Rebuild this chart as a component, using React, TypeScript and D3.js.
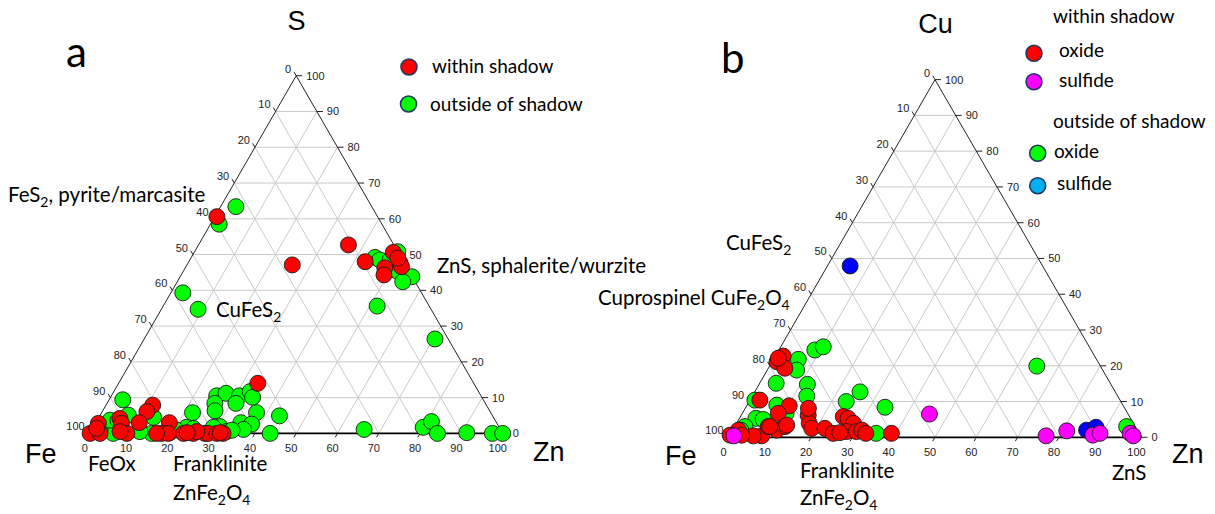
import React from 'react';
import * as d3 from 'd3';

// Compositions are [Fe, top component, Zn] in percent (top = S for panel a, Cu for panel b)
type Comp = [number, number, number];

const tickValues: number[] = d3.range(0, 101, 10);

// Panel a — S / Fe / Zn
const aWithinShadow: Comp[] = [
  [11.0, 52.7, 36.3], [27.4, 47.1, 25.5], [9.3, 48.0, 42.7], [1.2, 50.6, 48.2],
  [1.0, 47.7, 51.3], [5.4, 46.3, 48.3], [6.6, 44.3, 49.1], [1.2, 46.6, 52.2],
  [0.9, 49.0, 50.1], [38.9, 60.6, 0.5],
  [52.3, 14.0, 33.7], [80.8, 7.9, 11.3], [83.1, 6.1, 10.8], [86.5, 3.0, 10.5],
  [90.6, 4.2, 5.2], [90.9, 2.8, 6.3], [79.2, 3.0, 17.8], [96.5, 2.8, 0.7],
  [98.5, 0.5, 1.0], [99.9, 0, 0.1], [91.0, 0, 9.0], [82.6, 0, 17.4],
  [81.0, 0, 19.0], [77.3, 0, 22.7], [74.9, 0, 25.1], [72.1, 0, 27.9],
  [71.3, 0, 28.7], [69.2, 0, 30.8], [67.7, 0, 32.3], [92.4, 0.5, 7.1],
  [97.5, 0, 2.5], [73.8, 0.5, 25.7], [97.6, 1.4, 1.0], [83.8, 0, 16.2],
  [76.3, 0.2, 23.5], [68.3, 0.2, 31.5],
];

const aOutsideShadow: Comp[] = [
  [6.3, 49.2, 44.5], [5.5, 48.5, 46.0], [0, 50.8, 49.2], [4.4, 45.7, 49.9],
  [2.7, 45.2, 52.1], [0.1, 43.8, 56.1], [3.0, 42.4, 54.6], [12.6, 35.6, 51.8],
  [3.0, 48.5, 48.5], [32.9, 63.4, 3.7], [39.4, 58.5, 2.1], [57.8, 39.3, 2.9],
  [56.4, 34.7, 8.9], [3.2, 26.4, 70.4],
  [51.6, 4.9, 43.5], [33.0, 1.1, 65.9], [18.4, 1.7, 79.9], [15.6, 3.3, 81.1],
  [15.8, 0, 84.2], [8.6, 0.2, 91.2], [2.5, 0, 97.5], [0, 0, 100],
  [87.3, 9.4, 3.3], [64.0, 10.5, 25.5], [61.4, 11.2, 27.4], [58.5, 10.5, 31.0],
  [55.3, 11.7, 33.0], [55.5, 10.1, 34.4], [60.4, 8.4, 31.2], [65.5, 8.4, 26.1],
  [66.5, 6.3, 27.2], [72.2, 5.8, 22.0], [56.7, 5.8, 37.5], [61.9, 3.0, 35.1],
  [59.5, 2.6, 37.9], [62.2, 1.1, 36.7], [56.3, 0, 43.7], [82.3, 4.5, 13.2],
  [85.0, 0, 15.0], [94.1, 1.9, 4.0], [88.1, 5.1, 6.8], [67.5, 1.9, 30.6],
  [75.7, 1.7, 22.6], [94.3, 0, 5.7], [97.0, 1.0, 2.0], [87.6, 0.5, 11.9],
  [66.6, 0.5, 32.9], [69.2, 1.7, 29.1], [74.2, 1.4, 24.4], [80.5, 0.2, 19.3],
  [93.2, 3.7, 3.1], [91.3, 3.7, 5.0], [65.1, 0.9, 34.0], [78.6, 1.0, 20.4],
];

// Panel b — Cu / Fe / Zn
const bShadowOxide: Comp[] = [
  [75.4, 22.7, 1.9], [77.7, 21.1, 1.2], [76.7, 19.3, 4.0], [76.9, 22.1, 1.0],
  [87.2, 10.4, 2.4], [80.9, 8.8, 10.3], [84.6, 6.7, 8.7], [77.6, 6.2, 16.2],
  [78.5, 3.9, 17.6], [78.6, 2.5, 18.9], [75.4, 2.5, 22.1], [74.1, 1.1, 24.8],
  [69.3, 5.8, 24.9], [68.4, 5.3, 26.3], [67.8, 3.9, 28.3], [70.6, 1.6, 27.8],
  [68.2, 1.6, 30.2], [66.7, 2.0, 31.3], [66.2, 1.1, 32.7], [60.0, 1.1, 38.9],
  [87.3, 2.0, 10.7], [91.8, 0.4, 7.8], [93.8, 0.4, 5.8], [88.9, 3.0, 8.1],
  [84.8, 3.0, 12.2], [96.6, 2.0, 1.4], [99.3, 0.6, 0.1], [96.5, 0.6, 2.9],
  [76.6, 8.1, 15.3], [72.4, 1.3, 26.3], [84.2, 3.4, 12.4], [88.5, 3.0, 8.5],
];

const bShadowSulfide: Comp[] = [
  [48.1, 6.5, 45.4], [22.9, 0.4, 76.7], [17.2, 1.8, 81.0], [11.5, 0.6, 87.9],
  [9.5, 1.1, 89.4], [2.2, 1.1, 96.7], [1.8, 0.4, 97.8], [98.5, 0.4, 1.1],
];

const bOutsideOxide: Comp[] = [
  [15.4, 19.9, 64.7], [2.1, 3.0, 94.9], [57.9, 8.4, 33.7], [66.9, 24.4, 8.7],
  [64.4, 25.3, 10.3], [72.2, 21.8, 6.0], [74.1, 18.8, 7.1], [80.9, 15.1, 4.0],
  [73.5, 14.8, 11.7], [75.3, 11.5, 13.2], [61.8, 12.7, 25.5], [66.5, 10.0, 23.5],
  [88.4, 10.4, 1.2], [83.8, 9.0, 7.2], [90.7, 5.3, 4.0], [89.1, 5.0, 5.9],
  [82.7, 6.7, 10.6], [94.5, 3.0, 2.5], [63.7, 1.1, 35.2], [96.0, 2.0, 2.0],
];

const bOutsideSulfide: Comp[] = [
  [46.6, 47.9, 5.5], [12.3, 2.0, 85.7], [9.6, 2.8, 87.6],
];

const RED = '#ff0000';
const GREEN = '#00ff00';
const MAGENTA = '#ff00ff';
const BLUE = '#0000ff';
const SKY = '#00b0f0';

const ARIAL = '"Liberation Sans", Arial, sans-serif';
const LABEL = 'Lato, "Open Sans", sans-serif';
const NOTE_SIZE = 20.5;
const LEGEND_SIZE = 19;

type Series = { data: Comp[]; color: string };

function Ternary({
  left, base, side, series, top, leftName, rightName, topPos, leftPos, rightPos,
}: {
  left: number; base: number; side: number; series: Series[];
  top: string; leftName: string; rightName: string;
  topPos: [number, number]; leftPos: [number, number]; rightPos: [number, number];
}) {
  const h = (side * Math.sqrt(3)) / 2;
  const sx = d3.scaleLinear().domain([0, 100]).range([left, left + side]);
  const sy = d3.scaleLinear().domain([0, 100]).range([base, base - h]);
  const pos = (t: number, zn: number): [number, number] => [sx(zn + t / 2), sy(t)];

  const inner = tickValues.filter((k) => k > 0 && k < 100);
  const grid: [number, number, number, number][] = [];
  inner.forEach((k) => {
    const a1 = pos(k, 0), a2 = pos(k, 100 - k);
    grid.push([a1[0], a1[1], a2[0], a2[1]]);
    const b1 = pos(0, k), b2 = pos(100 - k, k);
    grid.push([b1[0], b1[1], b2[0], b2[1]]);
    const c1 = pos(0, 100 - k), c2 = pos(100 - k, 0);
    grid.push([c1[0], c1[1], c2[0], c2[1]]);
  });

  const apex = pos(100, 0), lv = pos(0, 0), rv = pos(0, 100);
  const c60 = 0.5, s60 = Math.sqrt(3) / 2, tl = 4.5;

  return (
    <g>
      {grid.map((g, i) => (
        <line key={i} x1={g[0]} y1={g[1]} x2={g[2]} y2={g[3]} stroke="#c9c9c9" strokeWidth={1} />
      ))}
      <line x1={lv[0]} y1={lv[1]} x2={apex[0]} y2={apex[1]} stroke="#222" strokeWidth={1} />
      <line x1={apex[0]} y1={apex[1]} x2={rv[0]} y2={rv[1]} stroke="#222" strokeWidth={1} />
      <line x1={lv[0]} y1={lv[1]} x2={rv[0]} y2={rv[1]} stroke="#000" strokeWidth={1.8} />

      {tickValues.map((k) => {
        // left axis: Fe, 0 at apex, 100 at Fe corner
        const p = pos(100 - k, 0);
        return (
          <g key={'l' + k}>
            <line x1={p[0]} y1={p[1]} x2={p[0] - tl * c60} y2={p[1] - tl * s60} stroke="#222" />
            <text x={p[0] - 5} y={p[1] - 3} textAnchor="end" fontSize={11} fontFamily={ARIAL} fill="#222">{k}</text>
          </g>
        );
      })}
      {tickValues.map((k) => {
        // right axis: top component
        const p = pos(k, 100 - k);
        return (
          <g key={'r' + k}>
            <line x1={p[0]} y1={p[1]} x2={p[0] + 6} y2={p[1]} stroke="#222" />
            <text x={p[0] + 10} y={p[1] + 4} fontSize={11} fontFamily={ARIAL} fill="#222">{k}</text>
          </g>
        );
      })}
      {tickValues.map((k) => {
        // bottom axis: Zn
        const p = pos(0, k);
        return (
          <g key={'b' + k}>
            <line x1={p[0]} y1={p[1]} x2={p[0] - tl * c60} y2={p[1] + tl * s60} stroke="#222" />
            <text x={p[0] - 5} y={p[1] + 19} textAnchor="middle" fontSize={11} fontFamily={ARIAL} fill="#222">{k}</text>
          </g>
        );
      })}

      {series.map((s, si) => (
        <g key={'s' + si}>
          {s.data.map((d, i) => {
            const p = pos(d[1], d[2]);
            return <circle key={i} cx={p[0]} cy={p[1]} r={8} fill={s.color} stroke="#1a1a1a" strokeWidth={0.9} />;
          })}
        </g>
      ))}

      <text x={topPos[0]} y={topPos[1]} textAnchor="middle" fontSize={27} fontFamily={ARIAL} fill="#000">{top}</text>
      <text x={leftPos[0]} y={leftPos[1]} fontSize={27} fontFamily={ARIAL} fill="#000">{leftName}</text>
      <text x={rightPos[0]} y={rightPos[1]} fontSize={27} fontFamily={ARIAL} fill="#000">{rightName}</text>
    </g>
  );
}

// Text with subscripted digits, e.g. FeS₂
function Formula({ x, y, parts, size = NOTE_SIZE }: { x: number; y: number; parts: (string | [string])[]; size?: number }) {
  const out: React.ReactNode[] = [];
  let shifted = false;
  const drop = size * 0.24;
  parts.forEach((p, i) => {
    if (Array.isArray(p)) {
      out.push(<tspan key={i} dy={drop} fontSize={size * 0.68}>{p[0]}</tspan>);
      shifted = true;
    } else {
      out.push(<tspan key={i} dy={shifted ? -drop : 0}>{p}</tspan>);
      shifted = false;
    }
  });
  return (
    <text x={x} y={y} fontSize={size} fontFamily={LABEL} fill="#000">{out}</text>
  );
}

function LegendDot({ x, y, color }: { x: number; y: number; color: string }) {
  return <circle cx={x} cy={y} r={8} fill={color} stroke="#203864" strokeWidth={1.6} />;
}

export default function App() {
  return (
    <svg width={1215} height={514} style={{ position: 'absolute', left: 0, top: 0, background: '#fff' }}>
      <rect width={1215} height={514} fill="#fff" />

      {/* Panel a */}
      <text x={66} y={67} fontSize={42} fontFamily={LABEL} fill="#000">a</text>
      <Ternary
        left={89.7} base={433.4} side={413}
        series={[{ data: aOutsideShadow, color: GREEN }, { data: aWithinShadow, color: RED }]}
        top="S" leftName="Fe" rightName="Zn"
        topPos={[296.5, 30]} leftPos={[25, 463]} rightPos={[533, 461]}
      />
      <Formula x={8} y={201.7} parts={['FeS', ['2'], ', pyrite/marcasite']} />
      <Formula x={216} y={316.7} parts={['CuFeS', ['2']]} />
      <Formula x={437} y={273} parts={['ZnS, sphalerite/wurzite']} />
      <Formula x={88} y={471} parts={['FeOx']} />
      <Formula x={173} y={471} parts={['Franklinite']} />
      <Formula x={173} y={500} parts={['ZnFe', ['2'], 'O', ['4']]} />

      <LegendDot x={409} y={67} color={RED} />
      <Formula x={432} y={73} parts={['within shadow']} size={LEGEND_SIZE} />
      <LegendDot x={408.5} y={104} color={GREEN} />
      <Formula x={430} y={110.7} parts={['outside of shadow']} size={LEGEND_SIZE} />

      {/* Panel b */}
      <text x={721} y={73} fontSize={42} fontFamily={LABEL} fill="#000">b</text>
      <Ternary
        left={728.5} base={437.3} side={413}
        series={[
          { data: bOutsideOxide, color: GREEN },
          { data: bOutsideSulfide, color: BLUE },
          { data: bShadowOxide, color: RED },
          { data: bShadowSulfide, color: MAGENTA },
        ]}
        top="Cu" leftName="Fe" rightName="Zn"
        topPos={[935.5, 33]} leftPos={[665, 465]} rightPos={[1172, 463]}
      />
      <Formula x={726} y={250} parts={['CuFeS', ['2']]} />
      <Formula x={598} y={305} parts={['Cuprospinel CuFe', ['2'], 'O', ['4']]} />
      <Formula x={800} y={478} parts={['Franklinite']} />
      <Formula x={800} y={505} parts={['ZnFe', ['2'], 'O', ['4']]} />
      <Formula x={1112} y={480} parts={['ZnS']} />

      <Formula x={1053} y={23.3} parts={['within shadow']} size={LEGEND_SIZE} />
      <LegendDot x={1034} y={53.3} color={RED} />
      <Formula x={1059} y={57} parts={['oxide']} size={LEGEND_SIZE} />
      <LegendDot x={1034} y={81.7} color={MAGENTA} />
      <Formula x={1059} y={87} parts={['sulfide']} size={LEGEND_SIZE} />
      <Formula x={1053} y={128.3} parts={['outside of shadow']} size={LEGEND_SIZE} />
      <LegendDot x={1037.7} y={153.3} color={GREEN} />
      <Formula x={1054} y={158} parts={['oxide']} size={LEGEND_SIZE} />
      <LegendDot x={1037.7} y={185.7} color={SKY} />
      <Formula x={1057} y={190} parts={['sulfide']} size={LEGEND_SIZE} />
    </svg>
  );
}
